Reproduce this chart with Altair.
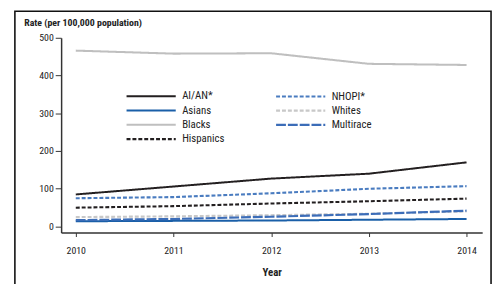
import altair as alt
import pandas as pd

years = [2010, 2011, 2012, 2013, 2014]
groups = ["AI/AN*", "Asians", "Blacks", "Hispanics", "NHOPI*", "Whites", "Multirace"]
ai_an = [85, 106, 127, 140, 170]
nhopi = [75, 78, 88, 100, 107]
asians = [14, 15, 16, 18, 20]
whites = [25, 27, 30, 34, 40]
blacks = [466, 458, 459, 431, 428]
multirace = [17, 20, 26, 33, 42]
hispanics = [50, 54, 61, 67, 74]

series = {
    "AI/AN*": ai_an, "NHOPI*": nhopi, "Asians": asians, "Whites": whites,
    "Blacks": blacks, "Multirace": multirace, "Hispanics": hispanics,
}
colors = ["#231f20", "#1a5fa8", "#bfbfbf", "#231f20", "#4a7cc0", "#c8c8c8", "#3c6db8"]
dashes = [[1, 0], [1, 0], [1, 0], [4, 2], [4, 2], [4, 2], [10, 2]]
widths = [2, 2.2, 2.5, 2, 2, 2, 2.2]

rows = []
for g in groups:
    for y, v in zip(years, series[g]):
        rows.append({"Year": y, "Group": g, "Rate": v})
df = pd.DataFrame(rows)

FONT = "Liberation Sans Narrow, Roboto Condensed, DejaVu Sans Condensed, Liberation Sans, sans-serif"

legend = alt.Legend(
    title=None, orient="none", legendX=65, legendY=53, columns=2, padding=0,
    symbolType="M-1,0H9", symbolSize=100, symbolStrokeWidth=2,
    labelFontSize=11, labelFont=FONT, labelColor="#222", labelOffset=45,
    rowPadding=2.5, columnPadding=47,
)

lines = alt.Chart(df).mark_line().encode(
    x=alt.X("Year:Q", scale=alt.Scale(domain=[2009.85, 2014.16], nice=False, zero=False),
            axis=alt.Axis(values=years, format="d", title="Year", grid=False,
                          tickSize=4, labelPadding=9, titlePadding=12,
                          titleFontWeight="bold", titleFontSize=11)),
    y=alt.Y("Rate:Q", scale=alt.Scale(domain=[-16, 500], nice=False, zero=False),
            axis=alt.Axis(values=[0, 100, 200, 300, 400, 500], grid=False,
                          title="Rate (per 100,000 population)", titleAngle=0,
                          titleX=-38, titleY=-15, titleAlign="left",
                          titleBaseline="middle", titleFontWeight="bold",
                          titleFontSize=10, tickSize=6, labelPadding=2)),
    color=alt.Color("Group:N", scale=alt.Scale(domain=groups, range=colors), legend=legend),
    strokeDash=alt.StrokeDash("Group:N", scale=alt.Scale(domain=groups, range=dashes), legend=legend),
    strokeWidth=alt.StrokeWidth("Group:N", scale=alt.Scale(domain=groups, range=widths), legend=None),
)

frame = alt.Chart(pd.DataFrame({"a": [0]})).mark_rect(
    fill="transparent", stroke="#111", strokeWidth=1.6
).encode(
    x=alt.value(-47), x2=alt.value(437), y=alt.value(-27), y2=alt.value(400)
)

chart = alt.layer(frame, lines).properties(
    width=428, height=198,
    autosize=alt.AutoSizeParams(type="none"),
    padding={"left": 54, "top": 28, "right": 12, "bottom": 50},
).configure_view(stroke=None).configure_axis(
    labelFont=FONT, titleFont=FONT, labelFontSize=10, labelColor="#222",
    titleColor="#222", domainColor="#333", tickColor="#333", domainWidth=1.5, tickWidth=1,
)

chart.save("out.html", embed_options={"renderer": "svg", "actions": False})
